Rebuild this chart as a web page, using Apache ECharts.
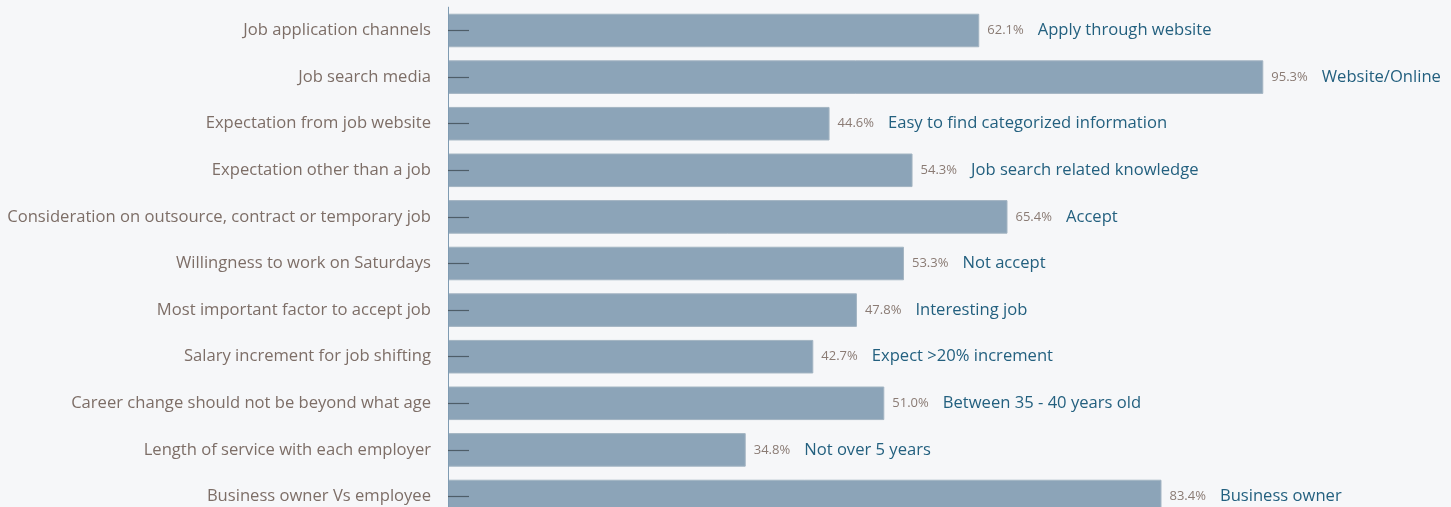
<!DOCTYPE html>
<html><head><meta charset="utf-8">
<script src="https://cdn.jsdelivr.net/npm/echarts@6/dist/echarts.min.js"></script>
<style>html,body{margin:0;padding:0;background:#f6f7f9;}#c{width:1451px;height:507px;}</style>
</head><body><div id="c"></div>
<script>
const categories = ["Job application channels","Job search media","Expectation from job website","Expectation other than a job","Consideration on outsource, contract or temporary job","Willingness to work on Saturdays","Most important factor to accept job","Salary increment for job shifting","Career change should not be beyond what age","Length of service with each employer","Business owner Vs employee"];
const values = [62.1, 95.3, 44.6, 54.3, 65.4, 53.3, 47.8, 42.7, 51.0, 34.8, 83.4];
const answers = ["Apply through website","Website/Online","Easy to find categorized information","Job search related knowledge","Accept","Not accept","Interesting job","Expect >20% increment","Between 35 - 40 years old","Not over 5 years","Business owner"];

const chart = echarts.init(document.getElementById('c'));
const FONT = 'Open Sans';
chart.setOption({
  backgroundColor: '#f6f7f9',
  animation: false,
  grid: {left: 448, right: 147.5, top: 7.2, height: 512.6, containLabel: false, outerBoundsMode: 'none'},
  xAxis: {type: 'value', min: 0, max: 100, show: false},
  yAxis: {
    type: 'category', data: categories, inverse: true, z: 10,
    axisLine: {show: true, lineStyle: {color: '#7f9bb2', width: 1}},
    axisTick: {show: true, inside: true, length: 21, alignWithLabel: true, lineStyle: {color: '#4e5d68', width: 1.2}},
    axisLabel: {color: '#7d6e67', fontSize: 16.6, fontFamily: FONT, margin: 17}
  },
  series: [{
    type: 'bar', data: values, barCategoryGap: '28%',
    itemStyle: {color: '#8ca4b8', borderColor: '#a3b4c2', borderWidth: 1},
    z: 1,
    label: {
      show: true, position: 'right', distance: 8,
      formatter: p => '{v|' + values[p.dataIndex].toFixed(1) + '%}{g|}{a|' + answers[p.dataIndex] + '}',
      rich: {
        v: {color: '#8a7b74', fontSize: 13, fontFamily: FONT},
        g: {width: 14},
        a: {color: '#23607f', fontSize: 16.6, fontFamily: FONT}
      }
    }
  }]
});
</script></body></html>
